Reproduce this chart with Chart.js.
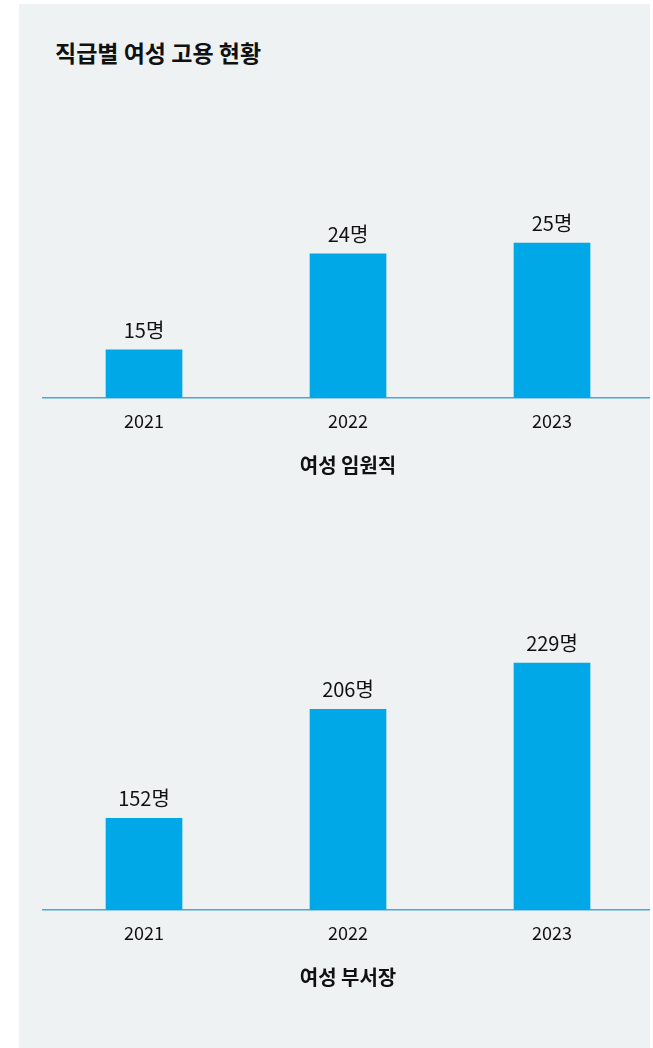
<!DOCTYPE html>
<html>
<head>
<meta charset="utf-8">
<script src="https://cdn.jsdelivr.net/npm/chart.js@4.4.1/dist/chart.umd.min.js"></script>
<style>
  html, body { margin: 0; padding: 0; background: #fff; width: 653px; height: 1048px; overflow: hidden; }
  .panel { position: absolute; left: 19px; top: 4px; width: 631px; height: 1044px; background: #eef2f3; overflow: hidden; }
  .title { position: absolute; left: 36px; top: 33px; font: bold 23px "Noto Sans CJK KR", sans-serif; color: #111; line-height: 30px; }
  .box { position: absolute; left: 23px; width: 612px; }
  #exec { top: 146px; height: 340px; }
  #mgr { top: 576px; height: 422px; }
</style>
</head>
<body>
<div class="panel">
  <div class="title">직급별 여성 고용 현황</div>
  <div class="box" id="exec"><canvas id="execChart"></canvas></div>
  <div class="box" id="mgr"><canvas id="mgrChart"></canvas></div>
</div>
<script>
const years = ['2021', '2022', '2023'];
const execCounts = [15, 24, 25];
const mgrCounts = [152, 206, 229];
const unit = '명';

const FONT = '"Noto Sans CJK KR", sans-serif';
const BAR = '#00a8e8';

// value labels above each bar
const valueLabels = {
    id: 'valueLabels',
    afterDatasetsDraw(chart) {
        const ctx = chart.ctx;
        const meta = chart.getDatasetMeta(0);
        ctx.save();
        ctx.font = '20px ' + FONT;
        ctx.fillStyle = '#111';
        ctx.textAlign = 'center';
        ctx.textBaseline = 'alphabetic';
        meta.data.forEach((bar, i) => {
            ctx.fillText(chart.data.datasets[0].data[i] + unit, bar.x, bar.y - 12);
        });
        ctx.restore();
    }
};

function makeChart(id, data, title, yMin, yMax) {
    return new Chart(document.getElementById(id), {
        type: 'bar',
        data: {
            labels: years,
            datasets: [{
                data: data,
                backgroundColor: BAR,
                borderWidth: 0,
                barThickness: 76
            }]
        },
        options: {
            responsive: true,
            maintainAspectRatio: false,
            animation: false,
            layout: { padding: 0 },
            plugins: {
                legend: { display: false },
                tooltip: { enabled: false }
            },
            scales: {
                x: {
                    grid: { display: false, drawTicks: false },
                    border: { display: true, color: '#4aa8dc', width: 1.5 },
                    ticks: { color: '#111', padding: 12, font: { family: FONT, size: 18 } },
                    title: {
                        display: true,
                        text: title,
                        color: '#111',
                        font: { family: FONT, size: 20, weight: 'bold' },
                        padding: { top: 0, bottom: 13 }
                    },
                    afterFit(scale) { scale.height = 92; }
                },
                y: {
                    display: false,
                    min: yMin,
                    max: yMax
                }
            }
        },
        plugins: [valueLabels]
    });
}

makeChart('execChart', execCounts, '여성 임원직', 10.49, 33.73);
makeChart('mgrChart', mgrCounts, '여성 부서장', 106.5, 270.2);
</script>
</body>
</html>
